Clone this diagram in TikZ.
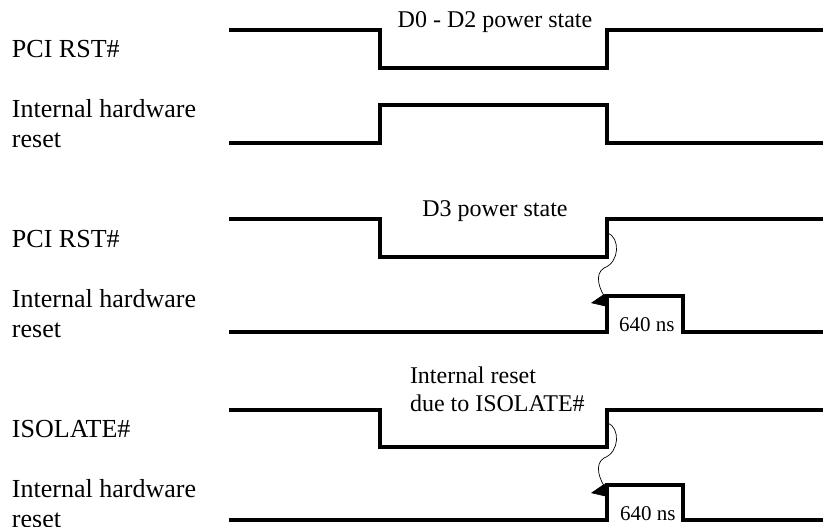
\documentclass[tikz,border=0pt]{standalone}
\usepackage{fontspec}
\setmainfont{Liberation Serif}
\usetikzlibrary{positioning, arrows.meta}

\begin{document}
\begin{tikzpicture}[
   x=1pt, y=-1pt,
   every node/.style     = {inner sep=0pt, outer sep=0pt},
         sigLabel/.style   = {anchor=north west, align=left, font=\fontsize{26}{30}\selectfont},
         stateLabel/.style = {anchor=base, align=left, font=\fontsize{24}{28}\selectfont},
         pulseLabel/.style = {anchor=base west, font=\fontsize{21}{24}\selectfont},
         wave/.style       = {line width=3.1pt},
         delayarrow/.style = {line width=0.7pt, -{Triangle[length=15pt, width=13pt]}}
]
    \useasboundingbox (0,0) rectangle (823,527);

    % signal names
    \node[sigLabel] (rst1) at (12,40) {PCI RST\#};
    \node[sigLabel] (hw1) at (12,99) {Internal hardware\\reset};
    \node[sigLabel] (rst2) at (12,230) {PCI RST\#};
    \node[sigLabel] (hw2) at (12,289) {Internal hardware\\reset};
    \node[sigLabel] (iso) at (12,420) {ISOLATE\#};
    \node[sigLabel] (hw3) at (12,479) {Internal hardware\\reset};

    % D0 - D2
    \draw[wave] (229,30) -- (380,30) -- (380,68) -- (607,68) -- (607,30) -- (823,30);
    \draw[wave] (229,143) -- (380,143) -- (380,105) -- (607,105) -- (607,143) -- (823,143);
    \node[stateLabel] (d0d2) at (495,28) {D0 - D2 power state};

    % D3
    \draw[wave] (229,219) -- (380,219) -- (380,257) -- (607,257) -- (607,219) -- (823,219);
    \draw[wave] (229,332) -- (607,332) -- (607,296) -- (683,296) -- (683,332) -- (823,332);
    \node[stateLabel] (d3) at (495,216) {D3 power state};
    \node[pulseLabel] (ns1) at (619,331) {640 ns};

    \coordinate (rise1) at (608,233);
    \coordinate (pulse1) at (591,303);
    \draw[delayarrow] (rise1) .. controls +(12,5) and +(16,-6) .. ++(-4,35)
        .. controls +(-10,6) and +(-8,-10) .. ++(3,32) -- (pulse1);

    % ISOLATE#
    \draw[wave] (229,410) -- (380,410) -- (380,447) -- (607,447) -- (607,410) -- (823,410);
    \draw[wave] (229,520) -- (607,520) -- (607,485) -- (683,485) -- (683,520) -- (823,520);
    \node[stateLabel, anchor=north west] (isoreset) at (410,367) {Internal reset\\due to ISOLATE\#};
    \node[pulseLabel] (ns2) at (620,520) {640 ns};

    \coordinate (rise2) at (608,423);
    \coordinate (pulse2) at (591,493);
    \draw[delayarrow] (rise2) .. controls +(12,5) and +(16,-6) .. ++(-4,35)
        .. controls +(-10,6) and +(-8,-10) .. ++(3,32) -- (pulse2);
\end{tikzpicture}
\end{document}
